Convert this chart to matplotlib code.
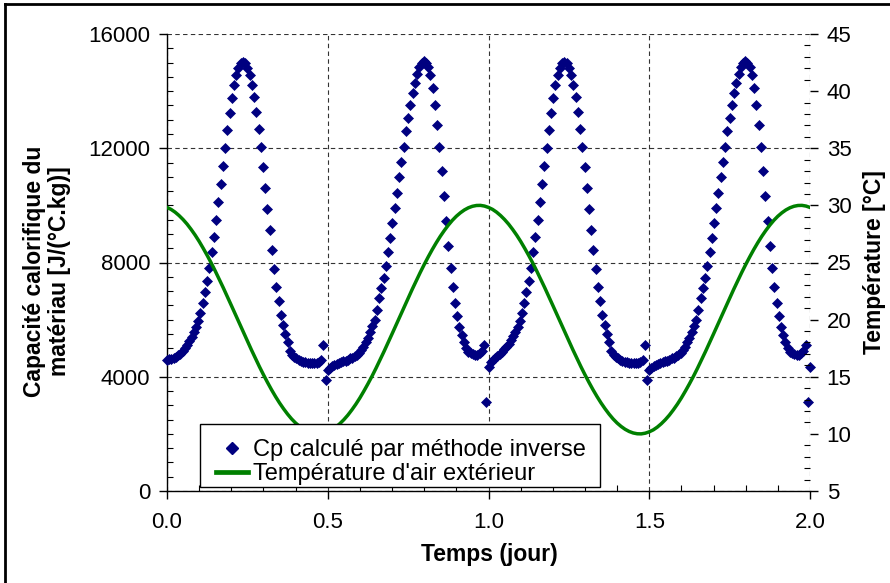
import numpy as np
import matplotlib
matplotlib.use("Agg")
import matplotlib.pyplot as plt
from matplotlib.ticker import MultipleLocator, FixedLocator
from matplotlib.lines import Line2D
from matplotlib.patches import Rectangle

plt.rcParams['font.family'] = ['Liberation Sans', 'DejaVu Sans']

# ---------------- data ----------------
# Cp (J/(°C.kg)) sampled every 1/144 day
cp_step = 1.0 / 144
cp_day1_am = [4600, 4615, 4635, 4665, 4700, 4750, 4810, 4890, 4990, 5110,
              5250, 5402, 5577, 5741, 5952, 6242, 6571, 6967, 7363, 7818,
              8357, 8882, 9488, 10107, 10748, 11389, 12019, 12639, 13244, 13749,
              14224, 14564, 14798, 14972, 15030, 14980, 14820, 14564, 14224, 13784,
              13279, 12684, 12031, 11354, 10600, 9873, 9138, 8427, 7762, 7153,
              6652, 6162, 5812, 5497, 5200, 4900, 4770, 4700, 4645, 4595,
              4555, 4525, 4500, 4485, 4475, 4470, 4475, 4490, 4520, 4590,
              5100, 3870]
cp_day1_pm = [4250, 4320, 4370, 4410, 4460, 4490, 4515, 4540, 4565, 4590,
              4640, 4670, 4710, 4760, 4830, 4920, 5030, 5200, 5370, 5560,
              5760, 5990, 6340, 6746, 7096, 7468, 7878, 8368, 8847, 9372,
              9897, 10422, 11004, 11529, 12054, 12614, 13069, 13514, 13944, 14294,
              14588, 14854, 15000, 15050, 14980, 14854, 14564, 14098, 13514, 12814,
              12031, 11204, 10339, 9453, 8588, 7818, 7153, 6571, 6125, 5752,
              5462, 5227, 5000, 4880, 4820, 4785, 4765, 4770, 4820, 4900,
              5100, 3120]
cp_day2_am = [4350, 4500, 4600, 4670, 4730, 4800, 4880, 4960, 5040, 5150,
              5280, 5420, 5577, 5741, 5952, 6242, 6571, 6967, 7363, 7818,
              8357, 8882, 9488, 10107, 10748, 11389, 12019, 12639, 13244, 13749,
              14224, 14564, 14798, 14972, 15030, 14980, 14820, 14564, 14224, 13784,
              13279, 12684, 12031, 11354, 10600, 9873, 9138, 8427, 7762, 7153,
              6652, 6162, 5812, 5497, 5200, 4900, 4770, 4700, 4645, 4595,
              4555, 4525, 4500, 4485, 4475, 4470, 4475, 4490, 4520, 4590,
              5100, 3870]
cp_day2_pm = [4250, 4320, 4370, 4410, 4460, 4490, 4515, 4540, 4565, 4590,
              4640, 4670, 4710, 4760, 4830, 4920, 5030, 5200, 5370, 5560,
              5760, 5990, 6340, 6746, 7096, 7468, 7878, 8368, 8847, 9372,
              9897, 10422, 11004, 11529, 12054, 12614, 13069, 13514, 13944, 14294,
              14588, 14854, 15000, 15050, 14980, 14854, 14564, 14098, 13514, 12814,
              12031, 11204, 10339, 9453, 8588, 7818, 7153, 6571, 6125, 5752,
              5462, 5227, 5000, 4880, 4820, 4785, 4765, 4770, 4820, 4900,
              5100, 3120]
cp_last = [4350]

# outdoor air temperature (°C) sampled every 0.0125 day
temp_step = 0.0125
temp_day1 = [29.82, 29.65, 29.41, 29.11, 28.76, 28.36, 27.90, 27.40, 26.85, 26.25,
             25.62, 24.96, 24.26, 23.53, 22.79, 22.03, 21.25, 20.47, 19.69, 18.90,
             18.13, 17.36, 16.61, 15.88, 15.18, 14.51, 13.87, 13.27, 12.71, 12.20,
             11.73, 11.31, 10.95, 10.65, 10.40, 10.21, 10.08, 10.01, 10.00, 10.06,
             10.18, 10.35, 10.59, 10.89, 11.24, 11.64, 12.10, 12.60, 13.15, 13.75,
             14.38, 15.04, 15.74, 16.47, 17.21, 17.97, 18.75, 19.53, 20.31, 21.10,
             21.87, 22.64, 23.39, 24.12, 24.82, 25.49, 26.13, 26.73, 27.29, 27.80,
             28.27, 28.69, 29.05, 29.35, 29.60, 29.79, 29.92, 29.99, 30.00, 29.94]
temp_day2 = [29.82, 29.65, 29.41, 29.11, 28.76, 28.36, 27.90, 27.40, 26.85, 26.25,
             25.62, 24.96, 24.26, 23.53, 22.79, 22.03, 21.25, 20.47, 19.69, 18.90,
             18.13, 17.36, 16.61, 15.88, 15.18, 14.51, 13.87, 13.27, 12.71, 12.20,
             11.73, 11.31, 10.95, 10.65, 10.40, 10.21, 10.08, 10.01, 10.00, 10.06,
             10.18, 10.35, 10.59, 10.89, 11.24, 11.64, 12.10, 12.60, 13.15, 13.75,
             14.38, 15.04, 15.74, 16.47, 17.21, 17.97, 18.75, 19.53, 20.31, 21.10,
             21.87, 22.64, 23.39, 24.12, 24.82, 25.49, 26.13, 26.73, 27.29, 27.80,
             28.27, 28.69, 29.05, 29.35, 29.60, 29.79, 29.92, 29.99, 30.00, 29.94]
temp_last = [29.82]

x_ticks = [0.0, 0.5, 1.0, 1.5, 2.0]
x_tick_labels = ['0.0', '0.5', '1.0', '1.5', '2.0']
cp_ticks = [0, 4000, 8000, 12000, 16000]
cp_tick_labels = ['0', '4000', '8000', '12000', '16000']
temp_ticks = [5, 10, 15, 20, 25, 30, 35, 40, 45]

label_cp = 'Cp calculé par méthode inverse'
label_temp = "Température d'air extérieur"
xlabel = 'Temps (jour)'
ylabel_left = 'Capacité calorifique du\nmatériau [J/(°C.kg)]'
ylabel_right = 'Température [°C]'

cp = np.array(cp_day1_am + cp_day1_pm + cp_day2_am + cp_day2_pm + cp_last, dtype=float)
t_cp = np.arange(len(cp)) * cp_step
temp = np.array(temp_day1 + temp_day2 + temp_last, dtype=float)
t_temp = np.arange(len(temp)) * temp_step

# ---------------- figure ----------------
W, H = 890, 583
fig = plt.figure(figsize=(W / 100, H / 100), dpi=100)
fig.patch.set_facecolor('white')

left, right, top, bottom = 167, 810, 34, 491
ax = fig.add_axes([left / W, 1 - bottom / H, (right - left) / W, (bottom - top) / H])
ax2 = ax.twinx()

navy = '#000080'
green = '#008000'
fs_tick = 16
fs_label = 16.5

ax.plot(t_cp, cp, linestyle='none', marker='D', ms=5.3, color=navy, mec=navy,
        mew=0.5, clip_on=False, zorder=3)
ax2.plot(t_temp, temp, color=green, lw=2.5, zorder=3)

ax.set_xlim(0, 2.0)
ax.set_ylim(0, 16000)
ax2.set_ylim(5, 45)

# grid
ax.set_axisbelow(True)
ax.grid(True, which='major', color='#333333', linestyle=(0, (4, 3)), lw=0.8)

for s in ['top', 'right']:
    ax.spines[s].set_visible(False)
    ax2.spines[s].set_visible(False)
ax2.spines['left'].set_visible(False)
ax2.spines['bottom'].set_visible(False)
ax.spines['left'].set_linewidth(1.0)
ax.spines['bottom'].set_linewidth(1.0)

ax.xaxis.set_major_locator(FixedLocator(x_ticks))
ax.set_xticklabels(x_tick_labels)
ax.xaxis.set_minor_locator(MultipleLocator(0.1))
ax.yaxis.set_major_locator(FixedLocator(cp_ticks))
ax.set_yticklabels(cp_tick_labels)
ax.yaxis.set_minor_locator(MultipleLocator(500))
ax2.yaxis.set_major_locator(FixedLocator(temp_ticks))
ax2.set_yticklabels([str(v) for v in temp_ticks])
ax2.yaxis.set_minor_locator(MultipleLocator(1))

ax.tick_params(axis='x', which='major', direction='out', length=6, width=1,
               labelsize=fs_tick, pad=9)
ax.tick_params(axis='x', which='minor', direction='in', length=4, width=0.8)
ax.tick_params(axis='y', which='major', direction='out', length=6, width=1,
               labelsize=fs_tick, pad=6)
ax.tick_params(axis='y', which='minor', direction='in', length=4, width=0.8)
ax2.tick_params(axis='y', which='major', direction='out', length=6, width=1,
                labelsize=fs_tick, pad=6)
ax2.tick_params(axis='y', which='minor', direction='in', length=4, width=0.8)

# labels
fig.text(489 / W, 1 - 554 / H, xlabel, ha='center', va='center',
         fontsize=fs_label, fontweight='bold')
fig.text(47 / W, 1 - 271 / H, ylabel_left, ha='center', va='center',
         rotation=90, fontsize=fs_label, fontweight='bold',
         multialignment='center', linespacing=1.15)
fig.text(875 / W, 1 - 262 / H, ylabel_right, ha='center', va='center',
         rotation=90, fontsize=fs_label, fontweight='bold')

# legend: box drawn as a rectangle, entries placed inside
pw, ph = right - left, bottom - top
box = Rectangle(((200 - left) / pw, (bottom - 487) / ph),
                (600 - 200) / pw, (487 - 424) / ph,
                transform=ax2.transAxes, facecolor='white', edgecolor='black',
                lw=1.0, zorder=8, clip_on=False)
ax2.add_patch(box)
h1 = Line2D([], [], linestyle='none', marker='D', ms=6.5, color=navy)
h2 = Line2D([], [], color=green, lw=3.4)
leg = ax2.legend([h1, h2], [label_cp, label_temp], loc='center left',
                 bbox_to_anchor=((216 - left) / pw, (bottom - 462) / ph),
                 borderaxespad=0, borderpad=0, fontsize=17, frameon=False,
                 handlelength=1.35, handletextpad=0.2, labelspacing=0.1)
leg.set_zorder(9)

# outer frame
fig.add_artist(Line2D([5 / W, 5 / W], [0, 1 - 4 / H], transform=fig.transFigure,
                      color='black', lw=2))
fig.add_artist(Line2D([5 / W, 1], [1 - 4 / H, 1 - 4 / H], transform=fig.transFigure,
                      color='black', lw=2))

fig.savefig('out.png', dpi=100)
